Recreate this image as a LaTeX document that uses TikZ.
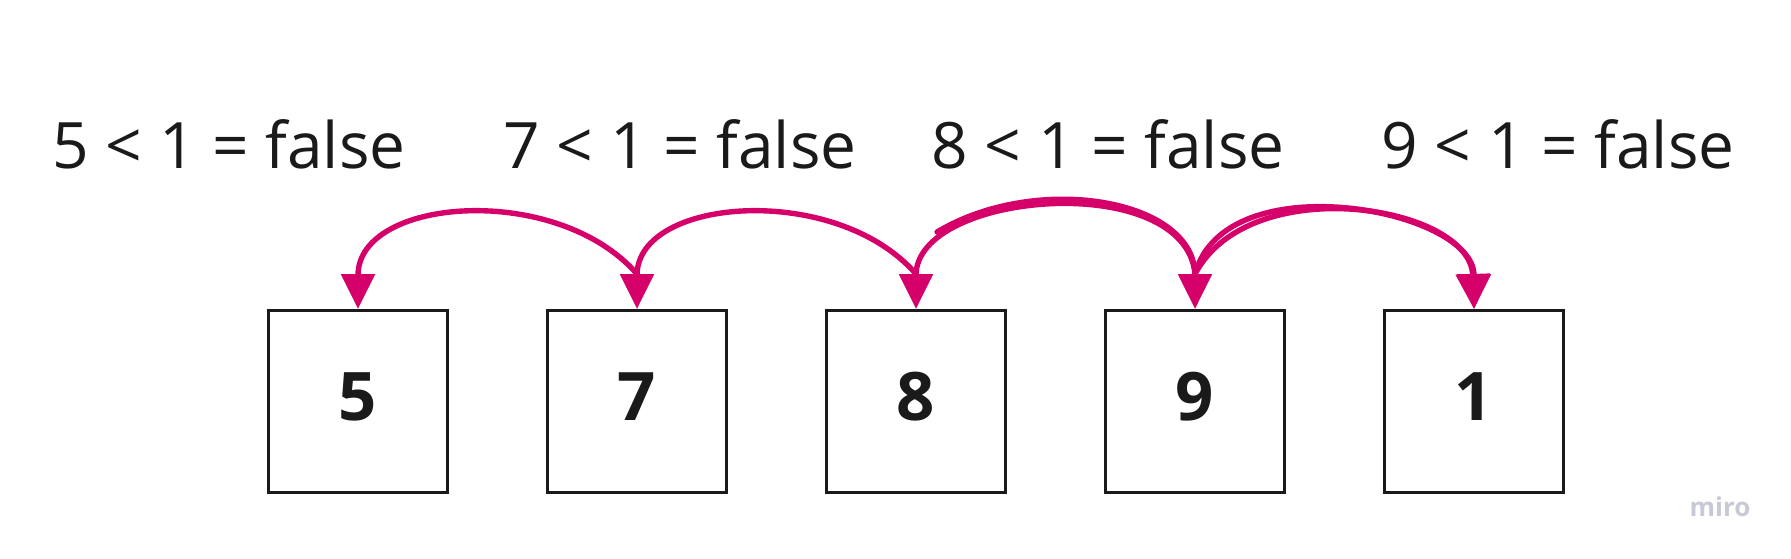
\documentclass[tikz,border=0pt]{standalone}
\usepackage{fontspec}
\setmainfont{Open Sans}
\usetikzlibrary{arrows.meta,positioning}
\definecolor{linkpink}{RGB}{214,0,106}
\definecolor{inkgray}{RGB}{26,26,26}
\definecolor{logogray}{RGB}{200,201,214}

\begin{document}
\begin{tikzpicture}[x=0.5pt,y=-0.5pt,node distance=139.5pt,
    num box/.style={rectangle,draw=inkgray,line width=1.5pt,minimum width=89.5pt,minimum height=91pt,
      inner sep=0pt,text=inkgray,font=\fontsize{33.5}{40}\selectfont\bfseries,text height=24pt,text depth=5.5pt},
    test label/.style={anchor=base,text=inkgray,font=\fontsize{32}{38}\selectfont},
    link/.style={-{Triangle[length=17.5pt,width=16.5pt]},draw=linkpink,line width=2.7pt,line cap=round}]
  \useasboundingbox (0,0) rectangle (1791,558);

  % the boxes
  \node[num box] (b5) at (358,401.5) {5};
  \node[num box] (b7) [right of=b5] {7};
  \node[num box] (b8) [right of=b7] {8};
  \node[num box] (b9) [right of=b8] {9};
  \node[num box] (b1) [right of=b9] {1};

  % the comparisons
  \node[test label] (t5) at (229,168) {5 < 1 = false};
  \node[test label] (t7) at (680,168) {7 < 1 = false};
  \node[test label] (t8) at (1108,168) {8 < 1 = false};
  \node[test label] (t9) at (1558,168) {9 < 1 = false};

  % where the arcs leave the boxes
  \coordinate (s7) at ([yshift=17.5pt]b7.north);
  \coordinate (s8) at ([yshift=17.5pt]b8.north);
  \coordinate (s9) at ([yshift=17.5pt]b9.north);
  \coordinate (p8) at (937,232);

  \draw[link] (s7) .. controls +(-80,-92) and +(0,-112) .. (b5.north);
  \draw[link] (s8) .. controls +(-80,-92) and +(0,-112) .. (b7.north);
  \draw[link] (s9) .. controls +(-10,-105) and +(0,-118) .. (b8.north);
  \draw[link] (p8) .. controls +(100,-60) and +(0,-110) .. (b9.north);
  \draw[link] (s9) .. controls +(30,-112) and +(0,-100) .. (b1.north);
  \draw[link] (s9) .. controls +(55,-104) and +(-4,-104) .. (b1.north);

  \node[anchor=base,text=logogray,font=\fontsize{13}{15}\selectfont\bfseries] (logo) at (1720,516) {miro};
\end{tikzpicture}
\end{document}
